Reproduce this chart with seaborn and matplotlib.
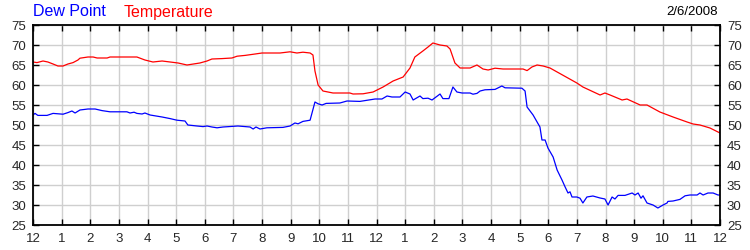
import matplotlib
matplotlib.use("Agg")
import matplotlib.pyplot as plt
import seaborn as sns
import pandas as pd

# Hours since midnight and readings
temp_hours = [0, 0.14, 0.35, 0.52, 0.70, 0.87, 1.05, 1.22, 1.40, 1.57, 1.64, 1.92, 2.10, 2.24,
              2.59, 2.69, 3.63, 3.91, 4.19, 4.51, 4.79, 5.07, 5.38, 5.83, 6.08, 6.25, 6.60,
              6.95, 7.13, 7.41, 7.76, 8.00, 8.63, 8.98, 9.22, 9.43, 9.68, 9.78, 9.85, 9.96,
              10.13, 10.48, 11.07, 11.18, 11.53, 11.88, 12.23, 12.58, 12.93, 13.17, 13.34,
              13.62, 13.80, 13.97, 14.22, 14.46, 14.57, 14.74, 14.92, 15.27, 15.51, 15.72,
              15.90, 16.14, 16.42, 17.12, 17.26, 17.43, 17.61, 17.82, 18.06, 19.00, 19.21,
              19.81, 19.98, 20.16, 20.58, 20.75, 21.21, 21.45, 21.90, 22.36, 22.85, 23.06,
              23.30, 23.65, 24.0]
temperature = [65.75, 65.6, 66, 65.75, 65.25, 64.75, 64.75, 65.25, 65.6, 66.25, 66.7, 67, 67,
               66.75, 66.75, 67, 67, 66.25, 65.75, 66, 65.75, 65.5, 65, 65.5, 66, 66.5, 66.6,
               66.75, 67.2, 67.4, 67.75, 68, 68, 68.3, 68, 68.2, 68, 67.5, 63.5, 60,
               58.5, 58, 58, 57.75, 57.8, 58.25, 59.5, 61, 62, 64.25, 67,
               68.5, 69.5, 70.5, 70, 69.75, 69, 65.5, 64.25, 64.25, 65, 64,
               63.75, 64.2, 64, 64, 63.6, 64.5, 65, 64.75, 64.25, 60.5, 59.5,
               57.5, 58, 57.5, 56.25, 56.5, 55, 55, 53.25, 52, 50.75, 50.25,
               50, 49.25, 48]

dew_hours = [0, 0.07, 0.17, 0.49, 0.70, 1.05, 1.22, 1.36, 1.47, 1.64, 1.92, 2.17, 2.41, 2.69,
             3.28, 3.39, 3.53, 3.63, 3.81, 3.91, 4.09, 4.51, 4.79, 5.03, 5.31, 5.41, 5.73,
             5.94, 6.08, 6.25, 6.43, 6.64, 7.16, 7.58, 7.69, 7.79, 7.93, 8.17, 8.73, 8.98,
             9.15, 9.26, 9.43, 9.68, 9.85, 9.96, 10.10, 10.24, 10.72, 10.97, 11.42, 11.95,
             12.19, 12.37, 12.54, 12.82, 13.00, 13.17, 13.28, 13.52, 13.62, 13.80, 13.94,
             14.22, 14.32, 14.53, 14.67, 14.81, 14.99, 15.27, 15.37, 15.51, 15.62, 15.79,
             16.14, 16.38, 16.49, 17.08, 17.19, 17.26, 17.47, 17.61, 17.71, 17.78, 17.89,
             17.99, 18.17, 18.31, 18.48, 18.59, 18.69, 18.76, 18.83, 19.00, 19.11, 19.21,
             19.35, 19.56, 19.81, 19.98, 20.09, 20.23, 20.33, 20.44, 20.68, 20.93, 21.03,
             21.14, 21.24, 21.31, 21.45, 21.66, 21.83, 22.01, 22.15, 22.18, 22.36, 22.60,
             22.78, 22.95, 23.20, 23.30, 23.41, 23.58, 23.76, 23.93, 24.0]
dew_point = [52.5, 52.9, 52.4, 52.4, 52.9, 52.7, 53.1, 53.5, 53, 53.75, 54, 54, 53.6, 53.3,
             53.3, 53, 53.2, 52.9, 52.75, 53, 52.5, 52, 51.6, 51.2, 51, 50, 49.75,
             49.6, 49.75, 49.5, 49.3, 49.5, 49.75, 49.5, 49, 49.5, 49, 49.3, 49.4, 49.75,
             50.5, 50.3, 50.9, 51.2, 55.75, 55.3, 55, 55.4, 55.5, 56, 55.9, 56.5,
             56.5, 57.25, 57, 57, 58.25, 57.75, 56.25, 57.25, 56.6, 56.7, 56.25,
             57.75, 56.6, 56.6, 59.5, 58.25, 58, 58, 57.7, 57.9, 58.5, 58.8,
             58.9, 59.75, 59.3, 59.2, 58.5, 54.5, 52.5, 50.75, 49.5, 46.25, 46.25,
             44.25, 42, 38.75, 36.25, 34.5, 33, 33.3, 32, 32, 31.7, 30.5,
             32, 32.25, 31.75, 31.5, 30, 32, 31.5, 32.4, 32.4, 33, 32.5,
             33, 31.7, 32.3, 30.5, 30, 29.25, 30, 30.5, 30.9, 31, 31.4,
             32.3, 32.5, 32.5, 33, 32.5, 33, 33, 32.5, 32.5]

x_tick_labels = ["12", "1", "2", "3", "4", "5", "6", "7", "8", "9", "10", "11",
                 "12", "1", "2", "3", "4", "5", "6", "7", "8", "9", "10", "11", "12"]
y_ticks = [25, 30, 35, 40, 45, 50, 55, 60, 65, 70, 75]
date_label = "2/6/2008"

sns.set_style("white")
plt.rcParams["font.family"] = ["Liberation Sans", "DejaVu Sans"]

fig = plt.figure(figsize=(7.5, 2.5), dpi=100)
ax = fig.add_axes([33 / 750, 0.1, (720 - 33) / 750, 0.8])

temp_df = pd.DataFrame({"hour": temp_hours, "value": temperature})
dew_df = pd.DataFrame({"hour": dew_hours, "value": dew_point})

sns.lineplot(data=temp_df, x="hour", y="value", ax=ax, color="#FF0000", linewidth=0.9)
sns.lineplot(data=dew_df, x="hour", y="value", ax=ax, color="#0000FF", linewidth=0.9)

ax.set_xlim(0, 24)
ax.set_ylim(25, 75)
ax.set_xticks(range(25))
ax.set_xticklabels(x_tick_labels)
ax.set_yticks(y_ticks)
ax.set_yticklabels([str(v) for v in y_ticks])
ax.set_xlabel("")
ax.set_ylabel("")
ax.grid(True, color="#CFCFCF", linewidth=1.0)
ax.set_axisbelow(True)
for s in ax.spines.values():
    s.set_color("black")
    s.set_linewidth(1.3)
ax.tick_params(axis="both", which="both", direction="in", length=4, width=1,
               color="black", top=True, bottom=True, left=True, right=True,
               labelleft=True, labelright=True, labelsize=9.5)
ax.tick_params(axis="x", pad=6)
ax.tick_params(axis="y", pad=5)

fig.text(33 / 750, 1 - 12 / 250, "Dew Point", color="#0000FF", fontsize=11.5,
         va="center", ha="left")
fig.text(124 / 750, 1 - 12 / 250, "Temperature", color="#FF0000", fontsize=11.5,
         va="center", ha="left")
fig.text(718 / 750, 1 - 12 / 250, date_label, color="black", fontsize=9.5,
         va="center", ha="right")

fig.savefig("out.png", dpi=100, facecolor="white")
